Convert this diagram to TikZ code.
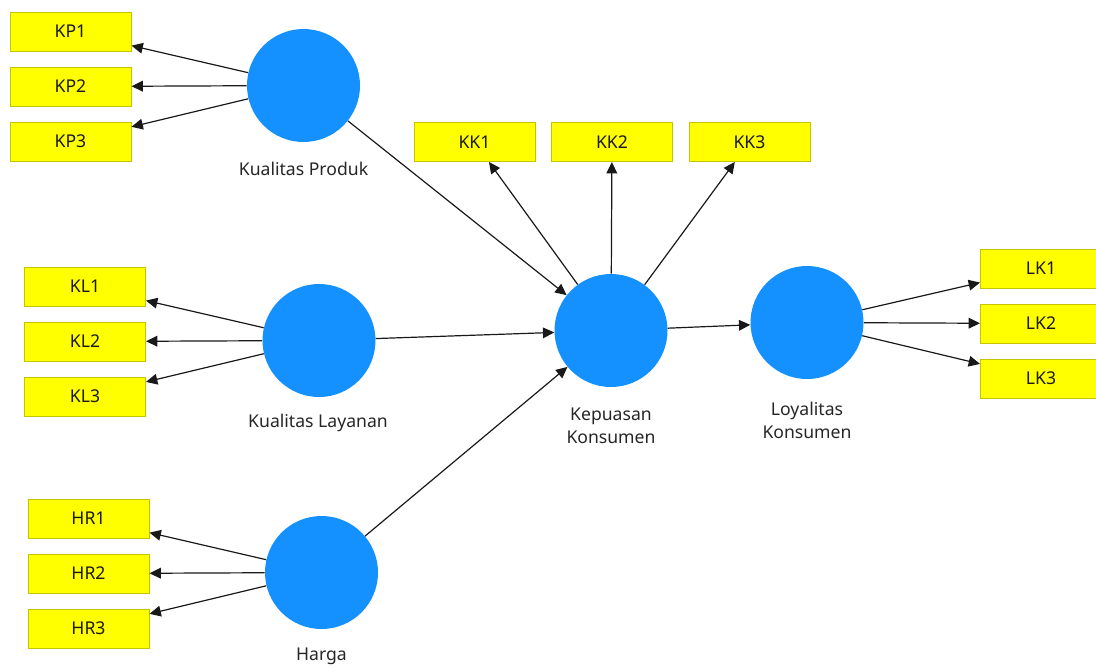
\documentclass[tikz,border=0pt]{standalone}
\usepackage{fontspec}
\setmainfont{Noto Sans}
\usetikzlibrary{arrows.meta}
\definecolor{lvblue}{RGB}{20,144,255}
\definecolor{indyel}{RGB}{255,255,0}
\definecolor{indbord}{RGB}{196,196,0}
\begin{document}
\begin{tikzpicture}[x=0.75pt,y=-0.75pt,
  ind/.style={draw=indbord, line width=0.75pt, fill=indyel, minimum width=90.75pt, minimum height=29.25pt, inner sep=0pt, font=\fontsize{13.2}{15}\selectfont, text=black!90},
  lv/.style={circle, fill=lvblue, minimum size=84.75pt, inner sep=0pt},
  lab/.style={font=\fontsize{13.2}{17.25}\selectfont, align=center, text=black!85},
  arr/.style={-{Triangle[length=8.5pt,width=8pt]}, line width=0.9pt, draw=black!90}]
\useasboundingbox (0,0) rectangle (1096,668);
% indicators
\node[ind] (KP1) at (70.5,31.5) {KP1};
\node[ind] (KP2) at (70.5,86.5) {KP2};
\node[ind] (KP3) at (70.5,141.5) {KP3};
\node[ind] (KL1) at (85,286.5) {KL1};
\node[ind] (KL2) at (85,341.5) {KL2};
\node[ind] (KL3) at (85,396.5) {KL3};
\node[ind] (HR1) at (88.5,518.5) {HR1};
\node[ind] (HR2) at (88.5,573.5) {HR2};
\node[ind] (HR3) at (88.5,628.5) {HR3};
\node[ind] (KK1) at (474.5,142) {KK1};
\node[ind] (KK2) at (612,142) {KK2};
\node[ind] (KK3) at (749.5,142) {KK3};
\node[ind] (LK1) at (1041,268.5) {LK1};
\node[ind] (LK2) at (1041,323.5) {LK2};
\node[ind] (LK3) at (1041,378.5) {LK3};
% latent variables
\node[lv] (KP) at (303.5,85.5) {};
\node[lv] (KL) at (319,340.5) {};
\node[lv] (HR) at (321.5,572.5) {};
\node[lv] (KEP) at (611,330.5) {};
\node[lv] (LOY) at (807,322.5) {};
% labels
\node[lab] (KPlab) at (303.5,169) {Kualitas Produk};
\node[lab] (KLlab) at (318,423) {Kualitas Layanan};
\node[lab] (HRlab) at (321.5,656) {Harga};
\node[lab] (KEPlab) at (611,426) {Kepuasan\\Konsumen};
\node[lab] (LOYlab) at (807,420) {Loyalitas\\Konsumen};
% outer loadings
\foreach \s/\t in {KP/KP1,KP/KP2,KP/KP3,KL/KL1,KL/KL2,KL/KL3,HR/HR1,HR/HR2,HR/HR3,KEP/KK1,KEP/KK2,KEP/KK3,LOY/LK1,LOY/LK2,LOY/LK3}
  \draw[arr] (\s) -- (\t);
% structural paths
\draw[arr] (KP) -- (KEP);
\draw[arr] (KL) -- (KEP);
\draw[arr] (HR) -- (KEP);
\draw[arr] (KEP) -- (LOY);
\end{tikzpicture}
\end{document}
